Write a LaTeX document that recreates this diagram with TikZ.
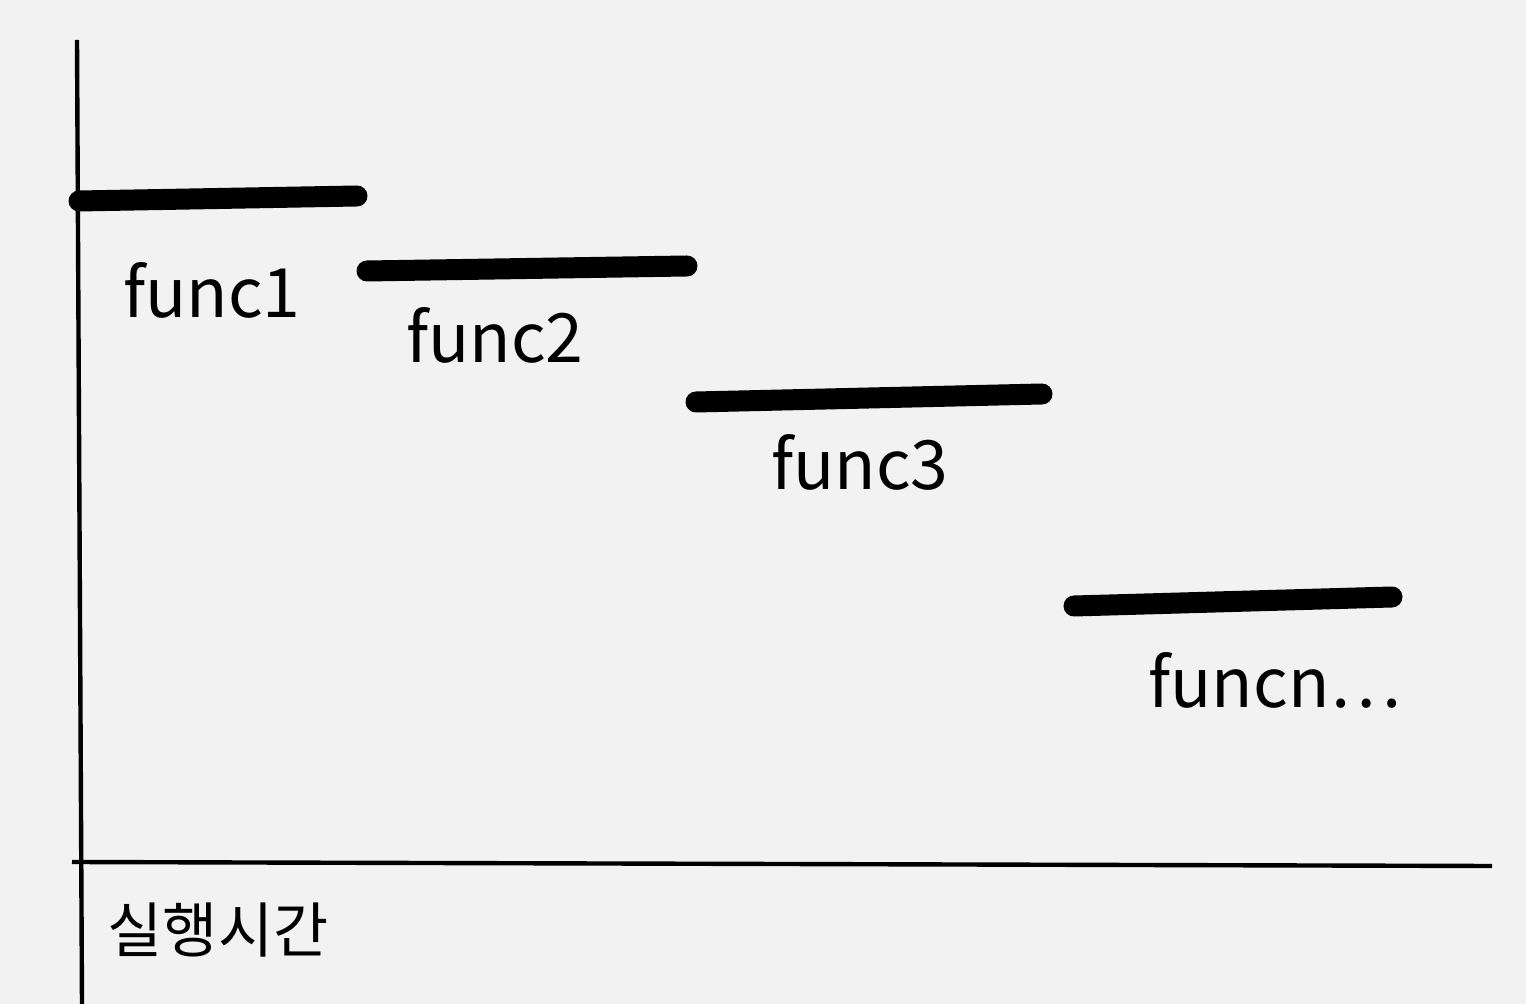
\documentclass[tikz,border=0pt]{standalone}
\usepackage{fontspec}
\setmainfont{Noto Sans CJK KR}
\begin{document}
\begin{tikzpicture}[x=0.5pt,y=-0.5pt,
  axis/.style={line width=2.2pt,black},
  bar/.style={line width=10.5pt,black,line cap=round},
  lbl/.style={font=\fontsize{34}{40}\selectfont,inner sep=0pt}]
\fill[white!95!black] (0,0) rectangle (1526,1004);
\useasboundingbox (0,0) rectangle (1526,1004);
\coordinate (ytop) at (77,40);
\coordinate (ybot) at (82,1004);
\coordinate (xl) at (72,862);
\coordinate (xr) at (1492,866);
\draw[axis] (ytop) -- (ybot);
\draw[axis] (xl) -- (xr);
\coordinate (b1a) at (79,201); \coordinate (b1b) at (357,196);
\coordinate (b2a) at (367,271); \coordinate (b2b) at (687,266);
\coordinate (b3a) at (696,402); \coordinate (b3b) at (1042,394);
\coordinate (b4a) at (1074,606); \coordinate (b4b) at (1392,597);
\draw[bar] (b1a) -- (b1b);
\draw[bar] (b2a) -- (b2b);
\draw[bar] (b3a) -- (b3b);
\draw[bar] (b4a) -- (b4b);
\node[lbl] (l1) at (212,290) {func1};
\node[lbl] (l2) at (495,335) {func2};
\node[lbl] (l3) at (860,462) {func3};
\node[lbl] (l4) at (1275,680) {funcn…};
\node[lbl,font=\fontsize{30}{36}\selectfont] (t) at (218,930) {실행시간};
\end{tikzpicture}
\end{document}
